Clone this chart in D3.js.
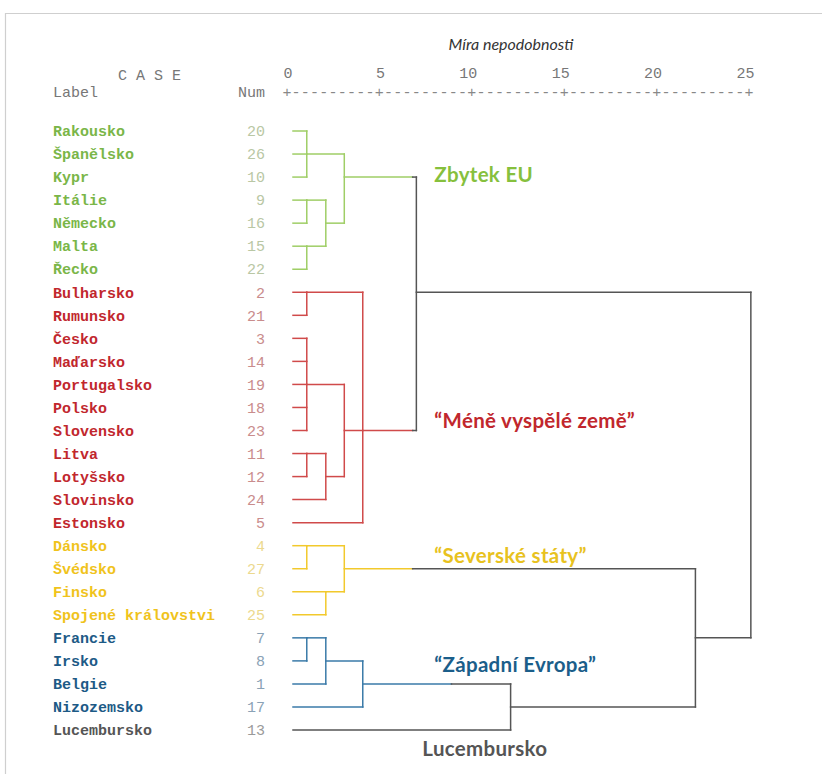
<!DOCTYPE html>
<html>
<head>
<meta charset="utf-8">
<script src="https://cdn.jsdelivr.net/npm/d3@7/dist/d3.min.js"></script>
<style>
  html, body { margin: 0; padding: 0; background: #fff; }
  svg { display: block; }
</style>
</head>
<body>
<svg id="chart" width="822" height="774"></svg>
<script>
// ---------------- data ----------------
const leafLabels = ["Rakousko","Španělsko","Kypr","Itálie","Německo","Malta","Řecko",
  "Bulharsko","Rumunsko","Česko","Maďarsko","Portugalsko","Polsko","Slovensko","Litva",
  "Lotyšsko","Slovinsko","Estonsko","Dánsko","Švédsko","Finsko","Spojené královstvi",
  "Francie","Irsko","Belgie","Nizozemsko","Lucembursko"];
const leafNums = [20,26,10,9,16,15,22,2,21,3,14,19,18,23,11,12,24,5,4,27,6,25,7,8,1,17,13];
const leafGroups = ["eu","eu","eu","eu","eu","eu","eu",
  "low","low","low","low","low","low","low","low","low","low","low",
  "north","north","north","north","west","west","west","west","lux"];

const groupKeys   = ["eu","low","north","west","lux"];
const groupNames  = ["Zbytek EU","“Méně vyspělé země”","“Severské státy”","“Západní Evropa”","Lucembursko"];
const groupColorUntil = [6.8, 6.8, 6.8, 8.9, null]; // distance where group colour turns grey

const axisTicks = [0,5,10,15,20,25];
const axisTitle = "Míra nepodobnosti";

// merges: children (leaf index or merge id), fusion distance, row the cluster line leaves from
const merges = [
  {id:"G1", kids:[0,1,2],        h:1.07, row:1},
  {id:"G2", kids:[3,4],          h:1.07, row:3},
  {id:"G3", kids:[5,6],          h:1.07, row:5},
  {id:"G4", kids:["G2","G3"],    h:2.1,  row:4},
  {id:"G5", kids:["G1","G4"],    h:3.1,  row:2},
  {id:"R1", kids:[7,8],          h:1.07, row:7},
  {id:"R2", kids:[9,10,11,12,13],h:1.07, row:11},
  {id:"R3", kids:[14,15],        h:1.07, row:14},
  {id:"R4", kids:["R3",16],      h:2.1,  row:15},
  {id:"R5", kids:["R2","R4"],    h:3.1,  row:13},
  {id:"R6", kids:["R1","R5",17], h:4.1,  row:13},
  {id:"Y1", kids:[18,19],        h:1.07, row:18},
  {id:"Y2", kids:[20,21],        h:2.1,  row:20},
  {id:"Y3", kids:["Y1","Y2"],    h:3.1,  row:19},
  {id:"B1", kids:[22,23],        h:1.07, row:22},
  {id:"B2", kids:["B1",24],      h:2.1,  row:23},
  {id:"B3", kids:["B2",25],      h:4.1,  row:24},
  {id:"L1", kids:["B3",26],      h:12.1, row:25},
  {id:"T1", kids:["G5","R6"],    h:7.0,  row:7},
  {id:"N1", kids:["Y3","L1"],    h:22.1, row:22},
  {id:"ROOT", kids:["T1","N1"],  h:25.1, row:null}
];

// ---------------- styles ----------------
const textColor = {eu:"#7ab648", low:"#c1272d", north:"#f0c31c", west:"#1d5a86", lux:"#555555"};
const numColor  = {eu:"#b9c7a4", low:"#c98c8c", north:"#ecd98e", west:"#8aa2b6", lux:"#9a9a9a"};
const lineColor = {eu:"#9fce66", low:"#d04a4a", north:"#f2c92c", west:"#3a7aa8", lux:"#555555"};
const titleColor= {eu:"#86c03d", low:"#c1272d", north:"#e8c21e", west:"#1b5e8a", lux:"#555555"};
const grey = "#555555";
const mono = "'Courier New','Liberation Mono',monospace";
const sans = "Lato,'Open Sans','DejaVu Sans',sans-serif";

// ---------------- scales ----------------
const x = d3.scaleLinear().domain([0,25]).range([287,749]);
const y = d3.scalePoint().domain(d3.range(leafLabels.length)).range([131,730]);

const svg = d3.select("#chart");

// frame
svg.append("path").attr("d","M5.5,774V13.5H822").attr("fill","none")
  .attr("stroke","#cfcfcf").attr("stroke-width",1.2);

// title
svg.append("text").attr("x", (x(0)+x(25))/2 - 7).attr("y", 50)
  .attr("text-anchor","middle").attr("font-family",sans).attr("font-style","italic")
  .attr("font-size",16).attr("fill","#333").text(axisTitle);

// header
const hdr = svg.append("g").attr("font-family",mono).attr("font-size",15).attr("fill","#777");
hdr.append("text").attr("x",118).attr("y",80).text("C A S E").attr("xml:space","preserve");
hdr.append("text").attr("x",53).attr("y",97).text("Label");
hdr.append("text").attr("x",265).attr("y",97).attr("text-anchor","end").text("Num");

// axis tick labels via d3 axis
const axisG = svg.append("g").attr("transform","translate(0,78)")
  .call(d3.axisTop(x).tickValues(axisTicks).tickSize(0).tickPadding(0));
axisG.select(".domain").remove();
axisG.selectAll("text").attr("font-family",mono).attr("font-size",15).attr("fill","#777")
  .attr("text-anchor","end").attr("dx",5).attr("dy",0);

// plus / dash ruler
const cw = (x(25)-x(0))/50;
let ruler = "";
for (let i = 0; i < axisTicks.length; i++) { ruler += "+"; if (i < axisTicks.length-1) ruler += "---------"; }
svg.append("text").attr("x", x(0)-cw/2).attr("y",97)
  .attr("textLength", x(25)-x(0)+cw).attr("lengthAdjust","spacing")
  .attr("font-family",mono).attr("font-size",15).attr("fill","#888").text(ruler);

// leaf labels and numbers
const rows = svg.append("g").attr("font-family",mono).attr("font-size",15);
rows.selectAll("text.lab").data(leafLabels).join("text").attr("class","lab")
  .attr("x",53).attr("y",(d,i)=>y(i)).attr("dy","0.35em")
  .attr("font-weight","bold").attr("fill",(d,i)=>textColor[leafGroups[i]]).text(d=>d);
rows.selectAll("text.num").data(leafNums).join("text").attr("class","num")
  .attr("x",265).attr("y",(d,i)=>y(i)).attr("dy","0.35em").attr("text-anchor","end")
  .attr("fill",(d,i)=>numColor[leafGroups[i]]).text(d=>d);

// ---------------- tree ----------------
const byId = new Map(merges.map(m=>[m.id,m]));
const isLeaf = k => typeof k === "number";
function leavesOf(k){ return isLeaf(k) ? [k] : byId.get(k).kids.flatMap(leavesOf); }
function groupOf(k){ const g = new Set(leavesOf(k).map(i=>leafGroups[i])); return g.size===1 ? [...g][0] : null; }
function rowOf(k){ return isLeaf(k) ? k : byId.get(k).row; }
function hOf(k){ return isLeaf(k) ? null : byId.get(k).h; }

const segs = [];
const leafStart = x(0) + 6;
merges.forEach(m=>{
  const mg = groupOf(m.id);
  const rws = m.kids.map(rowOf);
  segs.push({x1:x(m.h), x2:x(m.h), y1:y(d3.min(rws)), y2:y(d3.max(rws)), c: mg ? lineColor[mg] : grey});
  m.kids.forEach(k=>{
    const kg = groupOf(k);
    const x0 = isLeaf(k) ? leafStart : x(hOf(k));
    const yy = y(rowOf(k));
    const cut = kg ? groupColorUntil[groupKeys.indexOf(kg)] : null;
    if (kg && !mg && cut != null && x(cut) < x(m.h)) {
      segs.push({x1:x0, x2:x(cut), y1:yy, y2:yy, c:lineColor[kg]});
      segs.push({x1:x(cut), x2:x(m.h), y1:yy, y2:yy, c:grey});
    } else {
      segs.push({x1:x0, x2:x(m.h), y1:yy, y2:yy, c: kg ? lineColor[kg] : grey});
    }
  });
});
svg.append("g").selectAll("line").data(segs).join("line")
  .attr("x1",d=>d.x1).attr("x2",d=>d.x2).attr("y1",d=>d.y1).attr("y2",d=>d.y2)
  .attr("stroke",d=>d.c).attr("stroke-width",1.5).attr("stroke-linecap","square");

// group annotations
const exitRowOf = {eu:"G5", low:"R6", north:"Y3", west:"B3"};
const labG = svg.append("g").attr("font-family",sans).attr("font-weight","bold")
  .attr("font-size",20.5).attr("letter-spacing",0.3);
const labX = x(7.0) + 18;
const dyOf = {eu:5, low:-3, north:-6, west:-12, lux:26};
groupKeys.forEach((g,i)=>{
  const r = g === "lux" ? leafGroups.indexOf("lux") : byId.get(exitRowOf[g]).row;
  labG.append("text").attr("x", g==="lux" ? labX-12 : labX).attr("y", y(r) + dyOf[g])
    .attr("fill", titleColor[g]).text(groupNames[i]);
});
</script>
</body>
</html>
